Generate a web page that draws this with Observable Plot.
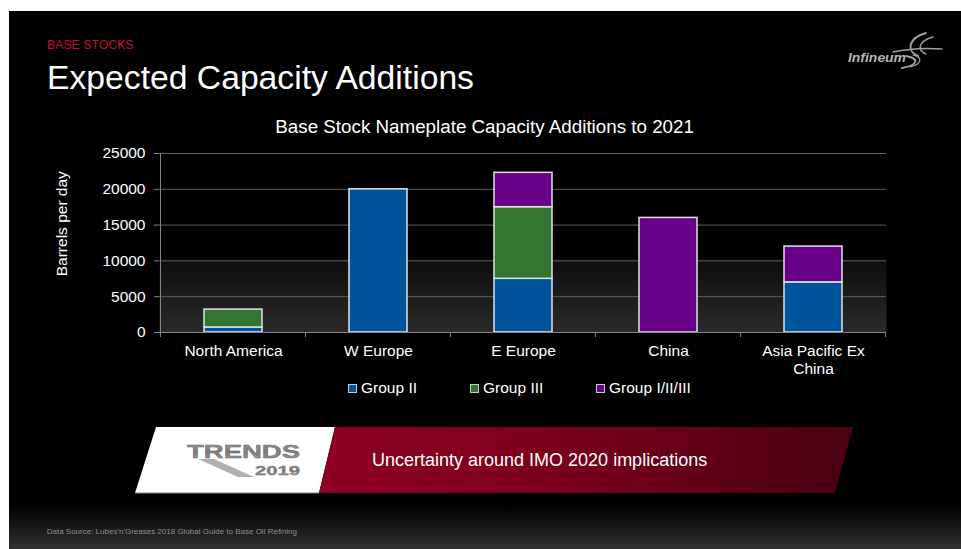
<!DOCTYPE html>
<html>
<head>
<meta charset="utf-8">
<script src="https://cdn.jsdelivr.net/npm/d3@7"></script>
<script src="https://cdn.jsdelivr.net/npm/@observablehq/plot@0.6"></script>
<style>
html,body{margin:0;padding:0;background:#fff;width:961px;height:549px;overflow:hidden;font-family:"Liberation Sans",Arial,sans-serif;}
#slide{position:absolute;left:9px;top:11px;width:952px;height:538px;background:linear-gradient(to bottom,#000 0px,#000 494px,#313131 538px);}
#chart{position:absolute;left:0;top:0;width:961px;height:549px;}
#deco{position:absolute;left:0;top:0;pointer-events:none;}
.leg{position:absolute;top:379px;height:18px;line-height:18px;font-size:15.5px;color:#fff;white-space:nowrap;}
.leg i{display:inline-block;width:7px;height:7px;border:1px solid #c8c8c8;margin-right:4px;vertical-align:0px;}
</style>
</head>
<body>
<div id="slide"></div>
<div id="chart"></div>
<svg id="deco" width="961" height="549" xmlns="http://www.w3.org/2000/svg" font-family="Liberation Sans, Arial, sans-serif">
  <defs>
    <linearGradient id="redg" x1="0" y1="0" x2="1" y2="0">
      <stop offset="0" stop-color="#8e0022"/>
      <stop offset="0.45" stop-color="#7a001c"/>
      <stop offset="1" stop-color="#480010"/>
    </linearGradient>
    <linearGradient id="trg" x1="0" y1="0" x2="0" y2="1">
      <stop offset="0" stop-color="#9a9a9a"/>
      <stop offset="0.5" stop-color="#7a7a7a"/>
      <stop offset="1" stop-color="#a8a8a8"/>
    </linearGradient>
  </defs>
  <text x="47" y="48.7" font-size="12.3" fill="#c8102e">BASE STOCKS</text>
  <text x="47" y="88.6" font-size="33.7" fill="#fff">Expected Capacity Additions</text>
  <text x="275.3" y="132.7" font-size="18.8" fill="#fff">Base Stock Nameplate Capacity Additions to 2021</text>
  <text transform="translate(61.7,223.7) rotate(-90)" text-anchor="middle" dominant-baseline="central" font-size="15.5" fill="#fff">Barrels per day</text>
  <!-- logo -->
  <text x="848" y="61.5" font-size="12" font-weight="bold" font-style="italic" fill="#b4b4b4" textLength="58" lengthAdjust="spacingAndGlyphs">Infineum</text>
  <g fill="none" stroke="#a0a0a0" stroke-linecap="round">
    <path d="M926 33 C908 38 906 51 918 56" stroke-width="2"/>
    <path d="M933 37 C918 41 917 50 926 54" stroke-width="1.5"/>
    <path d="M906 56 C919 58 919 65 902 68" stroke-width="2"/>
    <path d="M913 55 C923 57 922 64 910 67" stroke-width="1.2"/>
    <path d="M893 52 Q916 47 942 49" stroke-width="1.5"/>
  </g>
  <!-- banner -->
  <polygon points="156,427 335,427 319,493 135,493" fill="#ffffff"/>
  <polyline points="135,493 319,493" stroke="#8a8a8a" stroke-width="1"/>
  <polygon points="335,427 853,427 835,493 319,493" fill="url(#redg)"/>
  <polygon points="198,459 214,459 254,477 238,477" fill="#b0b0b0"/>
  <text x="187" y="458.3" font-size="18" font-weight="bold" fill="url(#trg)" stroke="#666" stroke-width="0.4" textLength="113" lengthAdjust="spacingAndGlyphs">TRENDS</text>
  <text x="255" y="474.5" font-size="12.5" font-weight="bold" fill="url(#trg)" stroke="#666" stroke-width="0.3" textLength="45" lengthAdjust="spacingAndGlyphs">2019</text>
  <text x="372" y="466.4" font-size="18" fill="#fff">Uncertainty around IMO 2020 implications</text>
  <text x="46.7" y="533.8" font-size="8" fill="#8e8e8e">Data Source: Lubes'n'Greases 2018 Global Guide to Base Oil Refining</text>
</svg>
<script>
// ---- data ----
const regions = ["North America", "W Europe", "E Europe", "China", "Asia Pacific Ex China"];
const regionLabels = ["North America", "W Europe", "E Europe", "China", "Asia Pacific Ex\nChina"];
const groups = ["Group II", "Group III", "Group I/II/III"];
const groupII = [700, 20000, 7500, 0, 7000];
const groupIII = [2500, 0, 10000, 0, 0];
const groupI_II_III = [0, 0, 4800, 16000, 5000];
const groupColors = ["#00549c", "#317530", "#690088"];
const yTicks = [0, 5000, 10000, 15000, 20000, 25000];

const series = [groupII, groupIII, groupI_II_III];
const rows = [];
groups.forEach((g, gi) => regions.forEach((r, ri) => {
  if (series[gi][ri] > 0) rows.push({region: r, group: g, value: series[gi][ri]});
}));

const plot = Plot.plot({
  width: 961,
  height: 549,
  marginLeft: 159,
  marginRight: 75,
  marginTop: 153,
  marginBottom: 217,
  style: {background: "transparent", color: "#fff", fontFamily: "Liberation Sans, Arial, sans-serif", fontSize: "15.5px"},
  x: {domain: regions, paddingInner: 0.6, paddingOuter: 0.3, label: null},
  y: {domain: [0, 25000], label: null},
  color: {domain: groups, range: groupColors},
  marks: [
    Plot.frame({fill: "url(#plotbg)", stroke: null}),
    Plot.gridY(yTicks, {stroke: "#5e5e5e", strokeOpacity: 1}),
    Plot.axisY(yTicks, {tickSize: 5, tickPadding: 9, tickFormat: d3.format("d"), stroke: "#858585", fill: "#fff", fontSize: 15.5, label: null}),
    Plot.axisX({tickSize: 0, tickPadding: 10, tickFormat: d => regionLabels[regions.indexOf(d)], lineHeight: 1.2, fontSize: 15.5, fill: "#fff", label: null}),
    Plot.barY(rows, {x: "region", y: "value", fill: "group", stroke: "#e2e2e2", strokeWidth: 1.5}),
    Plot.ruleY([0], {stroke: "#858585"})
  ]
});
document.getElementById("chart").appendChild(plot);

const svg = d3.select(plot);
svg.insert("defs", ":first-child").html(
  '<linearGradient id="plotbg" x1="0" y1="0" x2="0" y2="1">' +
  '<stop offset="0" stop-color="#000"/><stop offset="0.585" stop-color="#000"/>' +
  '<stop offset="0.6" stop-color="#0e0e0e"/><stop offset="1" stop-color="#2a2a2a"/></linearGradient>');

// category boundary ticks & left axis line, from the library's scales
const xs = plot.scale("x");
const ys = plot.scale("y");
const step = xs.step != null ? xs.step : (xs.apply(regions[1]) - xs.apply(regions[0]));
const bw = xs.bandwidth;
const gap = (step - bw) / 2;
const y0 = ys.apply(0), yTop = ys.apply(25000);
const bounds = regions.map(r => xs.apply(r) - gap);
bounds.push(xs.apply(regions[regions.length - 1]) + bw + gap);
const g = svg.append("g").attr("stroke", "#858585");
bounds.forEach((bx, i) => {
  g.append("line").attr("x1", bx).attr("x2", bx)
    .attr("y1", i === 0 ? yTop : y0).attr("y2", y0 + 5);
});

// legend from the color scale
const color = plot.scale("color");
const legendLeft = [348, 470, 596];
groups.forEach((gname, i) => {
  const d = document.createElement("div");
  d.className = "leg";
  d.style.left = legendLeft[i] + "px";
  const sw = document.createElement("i");
  sw.style.background = color.apply(gname);
  d.appendChild(sw);
  d.appendChild(document.createTextNode(gname));
  document.body.appendChild(d);
});
</script>
</body>
</html>
